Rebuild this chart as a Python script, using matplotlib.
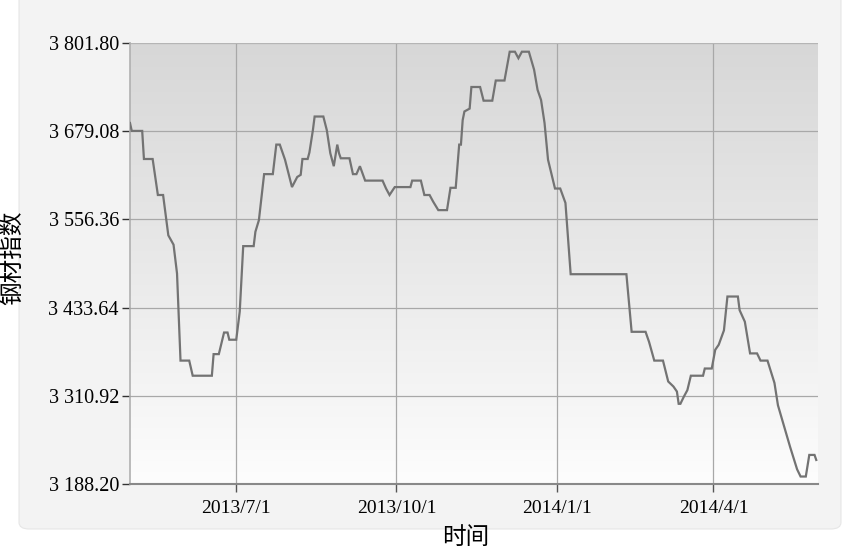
import matplotlib
matplotlib.use("Agg")
import matplotlib.pyplot as plt
import matplotlib.dates as mdates
from matplotlib.patches import FancyBboxPatch
from matplotlib.colors import LinearSegmentedColormap
import numpy as np
import pandas as pd

dates = [
    "2013-05-01", "2013-05-02", "2013-05-08", "2013-05-09", "2013-05-14", "2013-05-17",
    "2013-05-20", "2013-05-23", "2013-05-26", "2013-05-28", "2013-05-30", "2013-06-04",
    "2013-06-06", "2013-06-17", "2013-06-18", "2013-06-21", "2013-06-24", "2013-06-26",
    "2013-06-27", "2013-07-01", "2013-07-03", "2013-07-05", "2013-07-11", "2013-07-12",
    "2013-07-14", "2013-07-17", "2013-07-22", "2013-07-24", "2013-07-26", "2013-07-29",
    "2013-08-02", "2013-08-05", "2013-08-07", "2013-08-08", "2013-08-11", "2013-08-12",
    "2013-08-14", "2013-08-15", "2013-08-20", "2013-08-22", "2013-08-24", "2013-08-26",
    "2013-08-28", "2013-08-29", "2013-08-30", "2013-09-04", "2013-09-06", "2013-09-08",
    "2013-09-10", "2013-09-13", "2013-09-23", "2013-09-25", "2013-09-27", "2013-09-30",
    "2013-10-09", "2013-10-10", "2013-10-15", "2013-10-17", "2013-10-20", "2013-10-22",
    "2013-10-25", "2013-10-30", "2013-11-01", "2013-11-04", "2013-11-06", "2013-11-07",
    "2013-11-08", "2013-11-09", "2013-11-12", "2013-11-13", "2013-11-18", "2013-11-20",
    "2013-11-25", "2013-11-27", "2013-12-02", "2013-12-05", "2013-12-08", "2013-12-10",
    "2013-12-12", "2013-12-16", "2013-12-19", "2013-12-21", "2013-12-23", "2013-12-25",
    "2013-12-27", "2013-12-31", "2014-01-03", "2014-01-06", "2014-01-09", "2014-02-10",
    "2014-02-13", "2014-02-21", "2014-02-23", "2014-02-26", "2014-03-03", "2014-03-06",
    "2014-03-09", "2014-03-11", "2014-03-12", "2014-03-13", "2014-03-15", "2014-03-17",
    "2014-03-19", "2014-03-26", "2014-03-27", "2014-03-31", "2014-04-02", "2014-04-04",
    "2014-04-07", "2014-04-09", "2014-04-15", "2014-04-16", "2014-04-19", "2014-04-22",
    "2014-04-26", "2014-04-28", "2014-05-02", "2014-05-06", "2014-05-08", "2014-05-15",
    "2014-05-19", "2014-05-21", "2014-05-24", "2014-05-26", "2014-05-29", "2014-05-30",
]
values = [
    3690, 3679, 3679, 3640, 3640, 3590,
    3590, 3534, 3521, 3481, 3360, 3360,
    3339, 3339, 3369, 3369, 3399, 3399,
    3389, 3389, 3428, 3519, 3519, 3539,
    3555, 3619, 3619, 3660, 3660, 3639,
    3601, 3615, 3618, 3640, 3640, 3649,
    3680, 3699, 3699, 3680, 3648, 3630,
    3660, 3648, 3641, 3641, 3619, 3619,
    3630, 3610, 3610, 3599, 3590, 3601,
    3601, 3610, 3610, 3590, 3590, 3581,
    3569, 3569, 3600, 3600, 3660, 3660,
    3694, 3706, 3710, 3740, 3740, 3721,
    3721, 3749, 3749, 3789, 3789, 3780,
    3789, 3789, 3764, 3736, 3722, 3690,
    3639, 3599, 3599, 3579, 3480, 3480,
    3400, 3400, 3386, 3360, 3360, 3331,
    3324, 3317, 3300, 3300, 3310, 3319,
    3339, 3339, 3349, 3349, 3375, 3382,
    3402, 3449, 3449, 3430, 3414, 3370,
    3370, 3360, 3360, 3329, 3298, 3240,
    3209, 3199, 3199, 3229, 3229, 3222,
]

y_ticks = [3188.20, 3310.92, 3433.64, 3556.36, 3679.08, 3801.80]
y_tick_labels = ["3 188.20", "3 310.92", "3 433.64", "3 556.36", "3 679.08", "3 801.80"]
x_ticks = ["2013-07-01", "2013-10-01", "2014-01-01", "2014-04-01"]
x_tick_labels = ["2013/7/1", "2013/10/1", "2014/1/1", "2014/4/1"]
x_label = "时间"
y_label = "钢材指数"

d = pd.to_datetime(dates)
W, H = 845, 554

fig = plt.figure(figsize=(8.45, 5.54), dpi=100)
fig.patch.set_facecolor("white")
panel = FancyBboxPatch((19/W, 1 - 529/H), (841-19)/W, 529/H + 0.05,
                       boxstyle="round,pad=0,rounding_size=0.012",
                       transform=fig.transFigure, facecolor="#f3f3f3",
                       edgecolor="#e6e6e6", lw=0.8, zorder=-10)
fig.patches.append(panel)

ax = fig.add_axes([130/W, (H-484.3)/H, (818-130)/W, (484.3-42.5)/H])

xmin = mdates.date2num(pd.Timestamp("2013-05-01"))
xmax = mdates.date2num(pd.Timestamp("2014-05-31"))
ymin, ymax = 3188.20, 3801.80

grad = np.linspace(0, 1, 256).reshape(-1, 1)
cmap = LinearSegmentedColormap.from_list("g", ["#d7d7d7", "#e9e9e9", "#fdfdfd"])
ax.imshow(grad, extent=[xmin, xmax, ymin, ymax], aspect="auto", cmap=cmap,
          zorder=0, interpolation="bicubic")

ax.plot(d, values, color="#737373", lw=1.6, zorder=3, solid_joinstyle="miter")

ax.set_xlim(xmin, xmax)
ax.set_ylim(ymin, ymax)
ax.set_yticks(y_ticks)
ax.set_yticklabels(y_tick_labels, family=["Liberation Serif"], fontsize=14.5)
ax.set_xticks(mdates.date2num(pd.to_datetime(x_ticks)))
ax.set_xticklabels(x_tick_labels, family=["Liberation Serif"], fontsize=14)

ax.grid(True, color="#a8a8a8", lw=0.9, zorder=1)
ax.tick_params(axis="y", direction="out", length=6, width=1, color="#333333", pad=2)
ax.tick_params(axis="x", direction="out", length=6, width=1, color="#555555", pad=5)

for s in ["top", "right"]:
    ax.spines[s].set_visible(False)
ax.spines["left"].set_color("#b0b0b0")
ax.spines["left"].set_linewidth(1.2)
ax.spines["bottom"].set_color("#888888")
ax.spines["bottom"].set_linewidth(1.5)
ax.axhline(ymax, color="#b8b8b8", lw=1.2, zorder=2)

fig.text(466/W, 1 - 538/H, x_label, ha="center", va="center", fontsize=17,
         family=["Noto Sans CJK SC", "DejaVu Sans"])
fig.text(13/W, 1 - 258/H, y_label, ha="center", va="center", fontsize=17,
         rotation=90, family=["Noto Sans CJK SC", "DejaVu Sans"])

fig.savefig("out.png", dpi=100, facecolor=fig.get_facecolor())
